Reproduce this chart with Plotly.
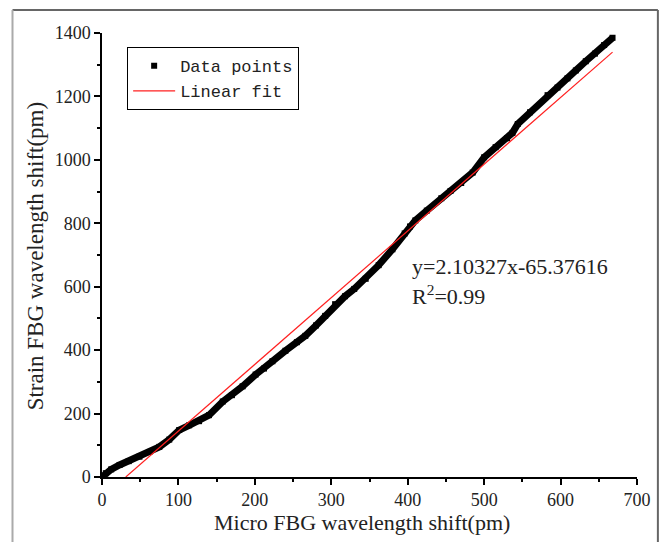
import plotly.graph_objects as go

# Data (Micro FBG shift vs Strain FBG shift, pm)
micro_shift = [0, 5, 12, 23, 35, 49, 62, 75, 88, 101, 114, 127, 140, 158, 170, 184,
               201, 212, 223, 240, 255, 266, 280, 292, 305, 318, 330, 345, 362, 380,
               396, 403, 410, 425, 444, 456, 470, 485, 500, 515, 530, 537, 544, 560,
               583, 596, 609, 620, 633, 645, 657, 668]
strain_shift = [0, 12, 24, 38, 50, 64, 79, 95, 118, 148, 163, 176, 195, 238, 258, 286,
                323, 342, 365, 398, 425, 445, 478, 508, 545, 570, 593, 625, 668, 718,
                768, 790, 809, 840, 879, 902, 927, 960, 1008, 1040, 1068, 1085, 1113, 1150,
                1204, 1228, 1257, 1282, 1311, 1335, 1362, 1385]

fit_x = [31.1, 668]
fit_y = [0, 1339.6]

x_ticks = [0, 100, 200, 300, 400, 500, 600, 700]
y_ticks = [0, 200, 400, 600, 800, 1000, 1200, 1400]

fit_text = "y=2.10327x-65.37616"
r2_text = "R<sup>2</sup>=0.99"

FONT = "Liberation Serif"
MONO = "Liberation Mono"
TXT = "#222"

fig = go.Figure()
fig.add_trace(go.Scatter(x=micro_shift, y=strain_shift, mode="lines",
                         line=dict(color="black", width=7),
                         showlegend=False, hoverinfo="skip"))
fig.add_trace(go.Scatter(x=micro_shift, y=strain_shift, mode="markers",
                         marker=dict(symbol="square", size=6, color="black"),
                         name="Data points"))
fig.add_trace(go.Scatter(x=fit_x, y=fit_y, mode="lines",
                         line=dict(color="#ff2020", width=1.2),
                         name="Linear fit"))

axis_common = dict(showgrid=False, zeroline=False, showline=True, linecolor="black",
                   linewidth=1.5, ticks="outside", ticklen=6, tickwidth=1.5,
                   tickcolor="black", mirror=False,
                   tickfont=dict(family=FONT, size=18, color=TXT))

fig.update_layout(
    width=663, height=542,
    margin=dict(l=102, r=23, t=33, b=65),
    paper_bgcolor="white", plot_bgcolor="white",
    xaxis=dict(range=[0, 700], tickvals=x_ticks,
               minor=dict(dtick=50, ticks="outside", ticklen=3, tickwidth=1.5, tickcolor="black"),
               **axis_common),
    yaxis=dict(range=[0, 1400], tickvals=y_ticks,
               minor=dict(dtick=100, ticks="outside", ticklen=3, tickwidth=1.5, tickcolor="black"),
               **axis_common),
    legend=dict(x=0.047, y=0.968, xanchor="left", yanchor="top",
                bgcolor="white", bordercolor="black", borderwidth=1,
                font=dict(family=MONO, size=17, color=TXT),
                itemwidth=42, tracegroupgap=0),
    showlegend=True,
)

fig.add_annotation(text="Micro FBG wavelength shift(pm)", xref="paper", yref="paper",
                   x=(363 - 102) / 538, y=(477 - 522) / 444, showarrow=False,
                   xanchor="center", yanchor="middle",
                   font=dict(family=FONT, size=22, color=TXT))
fig.add_annotation(text="Strain FBG wavelength shift(pm)", xref="paper", yref="paper",
                   x=(35 - 102) / 538, y=(477 - 256) / 444, showarrow=False,
                   textangle=-90, xanchor="center", yanchor="middle",
                   font=dict(family=FONT, size=23, color=TXT))
fig.add_annotation(text=fit_text, xref="paper", yref="paper",
                   x=(412 - 102) / 538, y=(477 - 266) / 444, showarrow=False,
                   xanchor="left", yanchor="middle",
                   font=dict(family=FONT, size=22, color=TXT))
fig.add_annotation(text=r2_text, xref="paper", yref="paper",
                   x=(412 - 102) / 538, y=(477 - 295) / 444, showarrow=False,
                   xanchor="left", yanchor="middle",
                   font=dict(family=FONT, size=22, color=TXT))

# outer figure frame
def px_x(p):
    return (p - 102) / 538

def px_y(p):
    return (477 - p) / 444

fig.add_shape(type="line", xref="paper", yref="paper", x0=px_x(12), x1=px_x(661),
              y0=px_y(10), y1=px_y(10), line=dict(color="#666", width=2))
fig.add_shape(type="line", xref="paper", yref="paper", x0=px_x(661), x1=px_x(661),
              y0=px_y(10), y1=px_y(560), line=dict(color="#666", width=2))
fig.add_shape(type="line", xref="paper", yref="paper", x0=px_x(12), x1=px_x(12),
              y0=px_y(10), y1=px_y(560), line=dict(color="#aaa", width=2))

fig.write_html("out.html", config={"displayModeBar": False},
               post_script="document.body.style.margin='0';document.body.style.overflow='hidden';")
